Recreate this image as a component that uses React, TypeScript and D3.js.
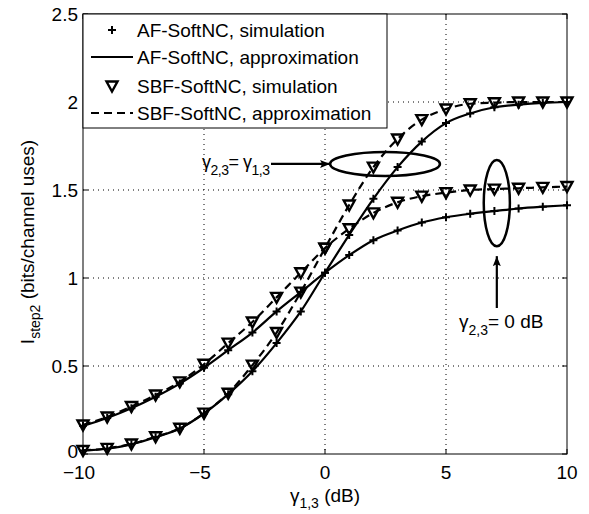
import React, { useRef, useEffect } from "react";
import * as d3 from "d3";

// gamma_{1,3} in dB
const gammaDb = [-10, -9, -8, -7, -6, -5, -4, -3, -2, -1, 0, 1, 2, 3, 4, 5, 6, 7, 8, 9, 10];

// gamma_{2,3} = 0 dB
const af0 = [0.16, 0.205, 0.26, 0.325, 0.4, 0.49, 0.59, 0.69, 0.81, 0.92, 1.03, 1.13, 1.215, 1.27, 1.315, 1.345, 1.365, 1.38, 1.395, 1.405, 1.413];
const sbf0 = [0.165, 0.21, 0.27, 0.335, 0.41, 0.51, 0.63, 0.75, 0.89, 1.03, 1.17, 1.28, 1.37, 1.43, 1.465, 1.485, 1.5, 1.505, 1.51, 1.515, 1.52];

// gamma_{2,3} = gamma_{1,3}
const afEq = [0.02, 0.03, 0.055, 0.095, 0.145, 0.23, 0.34, 0.47, 0.63, 0.81, 1.03, 1.245, 1.45, 1.63, 1.775, 1.88, 1.935, 1.97, 1.985, 1.995, 2.0];
const sbfEq = [0.02, 0.032, 0.057, 0.098, 0.146, 0.232, 0.345, 0.505, 0.69, 0.92, 1.17, 1.415, 1.63, 1.79, 1.9, 1.96, 1.99, 1.996, 2.0, 2.0, 2.0];

const xTicks = [-10, -5, 0, 5, 10];
const xTickLabels = ["\u221210", "\u22125", "0", "5", "10"];
const yTicks = [0, 0.5, 1, 1.5, 2, 2.5];
const yTickLabels = ["0", "0.5", "1", "1.5", "2", "2.5"];

const legendLabels = [
  "AF-SoftNC, simulation",
  "AF-SoftNC, approximation",
  "SBF-SoftNC, simulation",
  "SBF-SoftNC, approximation",
];

const FONT = "'Liberation Sans', Arial, Helvetica, sans-serif";
const FS = 19;
const SUB = 14;

const App = () => {
  const svgRef = useRef<SVGSVGElement>(null);

  useEffect(() => {
    const W = 589;
    const H = 514;
    const left = 83, right = 567, top = 14, bottom = 454;

    const svg = d3.select(svgRef.current);
    svg.selectAll("*").remove();
    svg.attr("width", W).attr("height", H);

    svg.append("rect").attr("width", W).attr("height", H).attr("fill", "#fff");

    const x = d3.scaleLinear().domain([-10, 10]).range([left, right]);
    const y = d3.scaleLinear().domain([0, 2.5]).range([bottom, top]);

    const defs = svg.append("defs");
    defs
      .append("marker")
      .attr("id", "arrow")
      .attr("viewBox", "0 0 10 10")
      .attr("refX", 10)
      .attr("refY", 5)
      .attr("markerWidth", 10)
      .attr("markerHeight", 10)
      .attr("markerUnits", "userSpaceOnUse")
      .attr("orient", "auto")
      .append("path")
      .attr("d", "M0,1 L10,5 L0,9 L2,5 Z")
      .attr("fill", "#000");

    // grid
    const grid = svg.append("g");
    xTicks.slice(1, -1).forEach((t) => {
      grid
        .append("line")
        .attr("x1", x(t)).attr("x2", x(t))
        .attr("y1", top).attr("y2", bottom)
        .attr("stroke", "#000").attr("stroke-width", 1)
        .attr("stroke-dasharray", "1,4");
    });
    yTicks.slice(1, -1).forEach((t) => {
      grid
        .append("line")
        .attr("x1", left).attr("x2", right)
        .attr("y1", y(t)).attr("y2", y(t))
        .attr("stroke", "#000").attr("stroke-width", 1)
        .attr("stroke-dasharray", "1,4");
    });

    // box + ticks
    svg
      .append("rect")
      .attr("x", left).attr("y", top)
      .attr("width", right - left).attr("height", bottom - top)
      .attr("fill", "none").attr("stroke", "#000").attr("stroke-width", 1);

    const tl = 5;
    xTicks.forEach((t) => {
      svg.append("line").attr("x1", x(t)).attr("x2", x(t)).attr("y1", bottom).attr("y2", bottom - tl).attr("stroke", "#000");
      svg.append("line").attr("x1", x(t)).attr("x2", x(t)).attr("y1", top).attr("y2", top + tl).attr("stroke", "#000");
    });
    yTicks.forEach((t) => {
      svg.append("line").attr("x1", left).attr("x2", left + tl).attr("y1", y(t)).attr("y2", y(t)).attr("stroke", "#000");
      svg.append("line").attr("x1", right).attr("x2", right - tl).attr("y1", y(t)).attr("y2", y(t)).attr("stroke", "#000");
    });

    // tick labels
    xTicks.forEach((t, i) => {
      svg
        .append("text")
        .attr("x", x(t) + (t < 0 ? -4 : 0)).attr("y", bottom + 25)
        .attr("text-anchor", "middle")
        .attr("font-family", FONT).attr("font-size", FS)
        .text(xTickLabels[i]);
    });
    yTicks.forEach((t, i) => {
      svg
        .append("text")
        .attr("x", left - 5).attr("y", y(t) + (t === 0 ? 4 : 7))
        .attr("text-anchor", "end")
        .attr("font-family", FONT).attr("font-size", FS)
        .text(yTickLabels[i]);
    });

    // axis labels
    const xl = svg
      .append("text")
      .attr("x", x(0)).attr("y", 502)
      .attr("text-anchor", "middle")
      .attr("font-family", FONT).attr("font-size", FS);
    xl.append("tspan").text("\u03b3");
    xl.append("tspan").attr("font-size", SUB).attr("dy", 6).text("1,3");
    xl.append("tspan").attr("dy", -6).text(" (dB)");

    const yl = svg
      .append("text")
      .attr("transform", `translate(34, ${(top + bottom) / 2 + 8}) rotate(-90)`)
      .attr("text-anchor", "middle")
      .attr("font-family", FONT).attr("font-size", FS);
    yl.append("tspan").text("I");
    yl.append("tspan").attr("font-size", SUB).attr("dy", 6).text("step2");
    yl.append("tspan").attr("dy", -6).text(" (bits/channel uses)");

    // curves
    const pts = (vals: number[]) => gammaDb.map((g, i) => [g, vals[i]] as [number, number]);
    const line = d3
      .line<[number, number]>()
      .x((d) => x(d[0]))
      .y((d) => y(d[1]))
      .curve(d3.curveMonotoneX);

    const plot = svg.append("g");
    [af0, afEq].forEach((s) => {
      plot.append("path").attr("d", line(pts(s))).attr("fill", "none").attr("stroke", "#000").attr("stroke-width", 2.2);
    });
    [sbf0, sbfEq].forEach((s) => {
      plot
        .append("path")
        .attr("d", line(pts(s)))
        .attr("fill", "none").attr("stroke", "#000").attr("stroke-width", 2.2)
        .attr("stroke-dasharray", "8,5");
    });

    const plus = (g: any, cx: number, cy: number) => {
      g.append("path")
        .attr("d", `M${cx - 4},${cy} H${cx + 4} M${cx},${cy - 4} V${cy + 4}`)
        .attr("stroke", "#000").attr("stroke-width", 2);
    };
    const tri = (g: any, cx: number, cy: number) => {
      g.append("path")
        .attr("d", `M${cx - 5.5},${cy - 4.5} L${cx + 5.5},${cy - 4.5} L${cx},${cy + 5.5} Z`)
        .attr("fill", "none").attr("stroke", "#000").attr("stroke-width", 2.4)
        .attr("stroke-linejoin", "miter");
    };
    [sbf0, sbfEq].forEach((s) => pts(s).forEach((d) => tri(plot, x(d[0]), y(d[1]))));
    [af0, afEq].forEach((s) => pts(s).forEach((d) => plus(plot, x(d[0]), y(d[1]))));

    // annotations
    svg
      .append("ellipse")
      .attr("cx", x(2.48)).attr("cy", y(1.648))
      .attr("rx", x(2.27) - x(0)).attr("ry", y(0) - y(0.068))
      .attr("fill", "none").attr("stroke", "#000").attr("stroke-width", 2.5);
    svg
      .append("ellipse")
      .attr("cx", x(7.1)).attr("cy", y(1.426))
      .attr("rx", x(0.54) - x(0)).attr("ry", y(0) - y(0.245))
      .attr("fill", "none").attr("stroke", "#000").attr("stroke-width", 2.5);

    svg.append("line").attr("x1", 271).attr("y1", y(1.648)).attr("x2", x(2.48) - (x(2.27) - x(0)))
      .attr("y2", y(1.648)).attr("stroke", "#000").attr("stroke-width", 2.2).attr("marker-end", "url(#arrow)");
    svg.append("line").attr("x1", x(7.1)).attr("y1", 308).attr("x2", x(7.1)).attr("y2", y(1.426 - 0.245) + 10)
      .attr("stroke", "#000").attr("stroke-width", 2.2).attr("marker-end", "url(#arrow)");

    const a1 = svg
      .append("text")
      .attr("x", 202).attr("y", 168)
      .attr("font-family", FONT).attr("font-size", 18)
      .attr("letter-spacing", -0.5);
    a1.append("tspan").text("\u03b3");
    a1.append("tspan").attr("font-size", SUB).attr("dy", 7).text("2,3");
    a1.append("tspan").attr("dy", -7).text("= \u03b3");
    a1.append("tspan").attr("font-size", SUB).attr("dy", 7).text("1,3");

    const a2 = svg
      .append("text")
      .attr("x", 459).attr("y", 328)
      .attr("font-family", FONT).attr("font-size", FS);
    a2.append("tspan").text("\u03b3");
    a2.append("tspan").attr("font-size", SUB).attr("dy", 7).text("2,3");
    a2.append("tspan").attr("dy", -7).text("= 0 dB");

    // legend
    const lg = svg.append("g");
    lg.append("rect")
      .attr("x", left).attr("y", top)
      .attr("width", 387 - left).attr("height", 128 - top)
      .attr("fill", "#fff").attr("stroke", "#000").attr("stroke-width", 1);
    const rows = [30, 57, 86, 113];
    legendLabels.forEach((lab, i) => {
      const ry = rows[i];
      if (i === 0) plus(lg, 112, ry);
      if (i === 1) lg.append("line").attr("x1", 91).attr("x2", 133).attr("y1", ry).attr("y2", ry).attr("stroke", "#000").attr("stroke-width", 2.2);
      if (i === 2) tri(lg, 112, ry);
      if (i === 3)
        lg.append("line").attr("x1", 91).attr("x2", 133).attr("y1", ry).attr("y2", ry)
          .attr("stroke", "#000").attr("stroke-width", 2.2).attr("stroke-dasharray", "8,5");
      lg.append("text")
        .attr("x", 137).attr("y", ry + 7)
        .attr("font-family", FONT).attr("font-size", FS)
        .text(lab);
    });
  }, []);

  return <svg ref={svgRef} style={{ position: "absolute", left: 0, top: 0 }}></svg>;
};

export default App;
